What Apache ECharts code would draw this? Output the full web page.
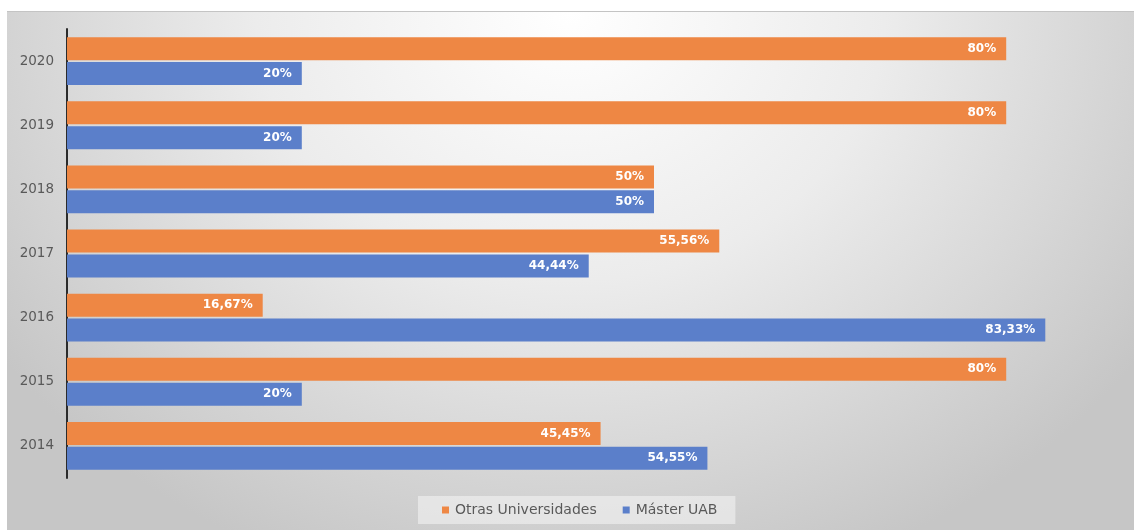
<!DOCTYPE html>
<html>
<head>
<meta charset="utf-8">
<script src="https://cdn.jsdelivr.net/npm/echarts@6/dist/echarts.min.js"></script>
<style>
html,body{margin:0;padding:0;background:#fff;width:1134px;height:530px;overflow:hidden;}
#bg{position:absolute;left:7px;top:11px;right:0;bottom:0;border-top:1px solid #c4c4c4;
background:radial-gradient(ellipse 62% 115% at 50% 0%, #ffffff 0%, #ececec 45%, #c6c6c6 100%);}
#chart{position:absolute;left:0;top:0;width:1134px;height:530px;}
</style>
</head>
<body>
<div id="bg"></div>
<div id="chart"></div>
<script>
const years = ['2014','2015','2016','2017','2018','2019','2020'];
const otras = [45.45, 80, 16.67, 55.56, 50, 80, 80];
const master = [54.55, 20, 83.33, 44.44, 50, 20, 20];
const seriesNames = ['Otras Universidades', 'Máster UAB'];

const chart = echarts.init(document.getElementById('chart'), null, {renderer:'canvas'});
const fmt = p => String(p.value).replace('.', ',') + '%';
const lbl = {
  show: true, position: 'insideRight', distance: 10, formatter: fmt,
  color: '#ffffff', fontWeight: 'bold', fontSize: 12, fontFamily: 'DejaVu Sans'
};
chart.setOption({
  backgroundColor: 'transparent',
  animation: false,
  grid: {left: 67, right: 10.4, top: 29, bottom: 52, containLabel: false},
  xAxis: {type: 'value', min: 0, max: 90, show: false},
  yAxis: {
    type: 'category', data: years,
    axisLine: {show: true, lineStyle: {color: '#2b2b2b', width: 2}},
    axisTick: {show: false},
    axisLabel: {color: '#595959', fontSize: 13.5, fontFamily: 'DejaVu Sans', margin: 13}
  },
  legend: {
    data: seriesNames, bottom: 6, left: 418,
    icon: 'rect', itemWidth: 7, itemHeight: 7, itemGap: 26,
    backgroundColor: 'rgba(245,245,245,0.55)', padding: [7, 18, 7, 24],
    textStyle: {color: '#595959', fontSize: 14, fontFamily: 'DejaVu Sans', padding: [0,0,0,1]}
  },
  series: [
    {name: seriesNames[0], type: 'bar', data: otras, barWidth: 23, barGap: '8%',
     itemStyle: {color: '#EE8744'}, label: lbl},
    {name: seriesNames[1], type: 'bar', data: master, barWidth: 23, barGap: '8%',
     itemStyle: {color: '#5B7FCA'}, label: lbl}
  ]
});
</script>
</body>
</html>
